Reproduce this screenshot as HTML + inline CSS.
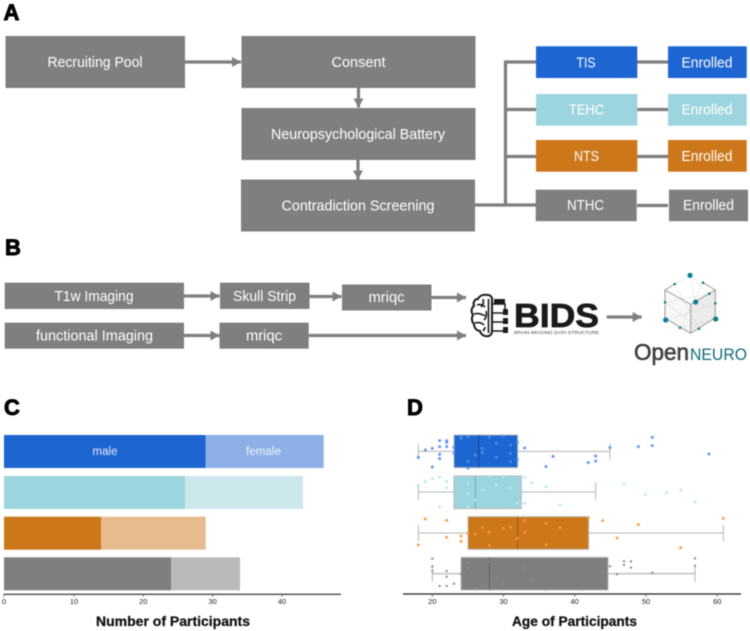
<!DOCTYPE html>
<html><head><meta charset="utf-8"><style>
html,body{margin:0;padding:0;background:#fff;width:750px;height:631px;overflow:hidden}
svg{display:block;filter:blur(.4px)}
text{font-family:"Liberation Sans",sans-serif}
.w{fill:#fff;font-size:14.5px;text-anchor:middle}
.h{fill:#000;font-size:22px;font-weight:bold;stroke:#000;stroke-width:.9}
.t{fill:#222;font-size:7.5px;text-anchor:middle}
.ti{fill:#111;font-size:13.5px;font-weight:bold;text-anchor:middle;stroke:#111;stroke-width:.25}
</style></head><body>
<svg width="750" height="631" viewBox="0 0 750 631" xmlns="http://www.w3.org/2000/svg">
<defs>
<marker id="ar" markerUnits="userSpaceOnUse" markerWidth="10" markerHeight="11" refX="9" refY="5.5" orient="auto"><path d="M0 0.5L9 5.5L0 10.5Z" fill="#7f7f7f"/></marker>
</defs>
<rect width="750" height="631" fill="#fff"/>

<text class="h" x="3.5" y="20">A</text>
<text class="h" x="5" y="255">B</text>
<text class="h" x="4" y="415">C</text>
<text class="h" x="407" y="415">D</text>

<g fill="none" stroke="#7f7f7f" stroke-width="3.2">
<path d="M185 62H241" marker-end="url(#ar)"/>
<path d="M358.5 88V107.5" marker-end="url(#ar)"/>
<path d="M358 160V179.5" marker-end="url(#ar)"/>
<path d="M475 205H536M505.5 205V62H536M505.5 109.5H536M505.5 156.5H536"/>
<path d="M637 62H668M637 109.5H668M637 156.5H668M637 205.5H668"/>
<path d="M184 296H219.5" marker-end="url(#ar)"/>
<path d="M309.5 296.5H341.5" marker-end="url(#ar)"/>
<path d="M431.5 297.5H466" marker-end="url(#ar)"/>
<path d="M184 335.5H219.5" marker-end="url(#ar)"/>
<path d="M308.7 335.5H466" marker-end="url(#ar)"/>
<path d="M606.7 317H641.7" marker-end="url(#ar)"/>
</g>

<g fill="#7f7f7f">
<rect x="5.5" y="36" width="179.5" height="52"/>
<rect x="241.5" y="36" width="234" height="52"/>
<rect x="241.5" y="108" width="234" height="52"/>
<rect x="241" y="179.5" width="234" height="52"/>
<rect x="535.7" y="189.7" width="101" height="31.5"/>
<rect x="669" y="189.7" width="79" height="31.5"/>
<rect x="4.7" y="282.7" width="179.3" height="26.3"/>
<rect x="220" y="282.7" width="89.5" height="26.3"/>
<rect x="342" y="284.5" width="89.5" height="26"/>
<rect x="4.7" y="322.7" width="179.3" height="26"/>
<rect x="219.5" y="322.7" width="89.2" height="26"/>
</g>
<rect x="536" y="46.3" width="101.3" height="31.7" fill="#1d65d0"/>
<rect x="668" y="46.3" width="78.7" height="31.7" fill="#1d65d0"/>
<rect x="536" y="94" width="101.3" height="31.7" fill="#9dd5de"/>
<rect x="668" y="94" width="78.7" height="31.7" fill="#9dd5de"/>
<rect x="536" y="140" width="101.3" height="31.7" fill="#cc771a"/>
<rect x="668" y="140" width="78.7" height="31.7" fill="#cc771a"/>

<text class="w" x="95" y="67" textLength="95" lengthAdjust="spacingAndGlyphs">Recruiting Pool</text>
<text class="w" x="358.5" y="67" textLength="54" lengthAdjust="spacingAndGlyphs">Consent</text>
<text class="w" x="358" y="139" textLength="174" lengthAdjust="spacingAndGlyphs">Neuropsychological Battery</text>
<text class="w" x="358" y="210.5" textLength="153" lengthAdjust="spacingAndGlyphs">Contradiction Screening</text>
<text class="w" x="586" y="67.5" textLength="19" lengthAdjust="spacingAndGlyphs">TIS</text>
<text class="w" x="586.5" y="114.5" textLength="35" lengthAdjust="spacingAndGlyphs">TEHC</text>
<text class="w" x="586.5" y="161" textLength="25" lengthAdjust="spacingAndGlyphs">NTS</text>
<text class="w" x="585.5" y="210" textLength="37" lengthAdjust="spacingAndGlyphs">NTHC</text>
<text class="w" x="707" y="67.5" textLength="51" lengthAdjust="spacingAndGlyphs">Enrolled</text>
<text class="w" x="707" y="114.5" textLength="51" lengthAdjust="spacingAndGlyphs">Enrolled</text>
<text class="w" x="707" y="161" textLength="51" lengthAdjust="spacingAndGlyphs">Enrolled</text>
<text class="w" x="708.5" y="210" textLength="51" lengthAdjust="spacingAndGlyphs">Enrolled</text>

<text class="w" x="94" y="301" textLength="79" lengthAdjust="spacingAndGlyphs">T1w Imaging</text>
<text class="w" x="264.5" y="301" textLength="63" lengthAdjust="spacingAndGlyphs">Skull Strip</text>
<text class="w" x="386.5" y="302" textLength="36" lengthAdjust="spacingAndGlyphs">mriqc</text>
<text class="w" x="94.5" y="340.5" textLength="117" lengthAdjust="spacingAndGlyphs">functional Imaging</text>
<text class="w" x="264" y="340.5" textLength="36" lengthAdjust="spacingAndGlyphs">mriqc</text>

<!-- BIDS logo -->
<g fill="none" stroke="#1a1a1a" stroke-width="2">
<path d="M488 295C483 294 479 296 478 299C474 299 473 303 474 306C471 308 471 312 473 315C471 318 472 322 474 324C474 328 477 331 480 331C481 335 485 337 489 336C491 335 492 333 492 331V298C491 296 490 295 488 295Z" fill="#fff"/>
<path d="M477 305C480 304 483 305 485 307M474 314C478 313 482 314 485 316M475 323C479 322 482 323 484 325M483 299C484 302 483 305 481 307M486 311C487 316 486 318 484 320M485 327C485 329 484 330 483 331M488.5 299V333" stroke-width="1.6"/>
<path d="M492 304H505V309M492 313H503M492 322H503M492 331H503" stroke-width="1.5"/>
</g>
<g fill="#1a1a1a">
<rect x="494" y="299" width="11" height="5.5"/>
<rect x="503" y="309" width="5" height="6"/>
<rect x="503" y="318" width="5" height="6"/>
<rect x="503" y="327" width="5" height="6"/>
</g>
<text x="514" y="327" font-size="33" font-weight="bold" fill="#1a1a1a" stroke="#1a1a1a" stroke-width=".7" textLength="85" lengthAdjust="spacingAndGlyphs">BIDS</text>
<text x="514" y="334" font-size="4.8" fill="#444" textLength="85" lengthAdjust="spacingAndGlyphs">BRAIN IMAGING DATA STRUCTURE</text>

<!-- OpenNeuro logo -->
<path d="M690.7 304.3L715.3 290V318L690.7 333.3Z" fill="#ececec"/>
<path d="M665 290L690.7 304.3V333.3L665 318.3Z" fill="#f7f7f7"/>
<g fill="none" stroke="#d5d5d5" stroke-width=".7" stroke-dasharray="2 1">
<path d="M690 275.3L695.7 302M690 275.3L674.7 284M674.7 284L699 328.7M703 282.7L680 327.7M665 302.3L699 328.7M715.3 303.3L665.7 320M709.3 293.7L665 302.3M715.7 319L680 327.7M690 275.3L709.3 293.7"/>
</g>
<g fill="none" stroke="#9a9a9a" stroke-width="1">
<path d="M674.7 284L665 290V318.3L690.7 333.3L715 318M665 290L690.7 304.3V333.3M690.7 304.3L715.3 290V318M703 282.7L715.3 290"/>
</g>
<g fill="#0d7f92">
<circle cx="690" cy="275.3" r="2.6"/><circle cx="695.7" cy="302" r="2.6"/><circle cx="665.7" cy="320" r="2.6"/><circle cx="715.7" cy="319" r="2.6"/>
<circle cx="674.7" cy="284" r="1.3"/><circle cx="703" cy="282.7" r="1.3"/><circle cx="709.3" cy="293.7" r="1.3"/><circle cx="665" cy="302.3" r="1.3"/><circle cx="715.3" cy="303.3" r="1.3"/><circle cx="680" cy="327.7" r="1.3"/><circle cx="699" cy="328.7" r="1.3"/>
</g>
<text x="634" y="360" font-size="23" fill="#404040" stroke="#404040" stroke-width=".6" textLength="55" lengthAdjust="spacingAndGlyphs">Open</text>
<text x="690" y="360" font-size="16.5" fill="#12697c" textLength="57" lengthAdjust="spacingAndGlyphs">NEURO</text>

<!-- C -->
<rect x="4" y="435" width="201.7" height="33" fill="#1d65d0"/><rect x="205.7" y="435" width="118" height="33" fill="#8cb0e6"/>
<rect x="4" y="476" width="181" height="33" fill="#9dd5de"/><rect x="185" y="476" width="118" height="33" fill="#cde8ec"/>
<rect x="4" y="516.7" width="97" height="33" fill="#cc771a"/><rect x="101" y="516.7" width="104.7" height="33" fill="#e6bb8d"/>
<rect x="4" y="557.3" width="167" height="33" fill="#7f7f7f"/><rect x="171" y="557.3" width="69" height="33" fill="#bababa"/>
<text x="105" y="455" fill="#e8eefb" font-size="11.5" text-anchor="middle" textLength="25" lengthAdjust="spacingAndGlyphs">male</text>
<text x="263.5" y="455" fill="#eef3fb" font-size="11.5" text-anchor="middle" textLength="35" lengthAdjust="spacingAndGlyphs">female</text>
<path d="M4 594.3H341" stroke="#222" stroke-width="1.2"/>
<path d="M4 594V597M74 594V597M143.3 594V597M212.7 594V597M282 594V597" stroke="#333" stroke-width=".6"/>
<text class="t" x="4" y="604">0</text><text class="t" x="74" y="604">10</text><text class="t" x="143.3" y="604">20</text><text class="t" x="212.7" y="604">30</text><text class="t" x="282" y="604">40</text>
<text class="ti" x="173" y="626" textLength="154" lengthAdjust="spacingAndGlyphs">Number of Participants</text>

<!-- D -->
<g transform="translate(400,400) scale(.33333)">
<g stroke="#b5b5b5" stroke-width="3" fill="none">
<path d="M55 154H162M353 154H630M55 130V178M630 130V180"/>
<path d="M55 276H162M364 276H587M55 252V300M587 252V300"/>
<path d="M55 399H204M566 399H970M55 375V423M970 375V423"/>
<path d="M97 521H183M625 521H885" stroke-width="5" stroke="#c4c4c4"/><path d="M97 497V546M885 497V546"/>
</g>
<g stroke="#b9b9b9" stroke-width="3">
<rect x="162" y="105" width="191" height="98" fill="#1d65d0"/>
<rect x="162" y="228" width="202" height="98" fill="#9dd5de"/>
<rect x="204" y="350" width="362" height="98" fill="#cc771a"/>
<rect x="183" y="472" width="441" height="98" fill="#7f7f7f"/>
</g>
<g stroke-width="3" stroke-opacity=".75">
<path d="M236 105V203" stroke="#123f82"/>
<path d="M226 228V326" stroke="#6b9aa3"/>
<path d="M353 350V448" stroke="#8a5010"/>
<path d="M268 472V570" stroke="#5a5a5a"/>
</g>
<g fill="#4f8ff0" fill-opacity=".9">
<circle cx="55" cy="172" r="4.5"/><circle cx="76" cy="150" r="4.5"/><circle cx="97" cy="145" r="4.5"/><circle cx="97" cy="201" r="4.5"/><circle cx="119" cy="122" r="4.5"/><circle cx="119" cy="140" r="4.5"/><circle cx="119" cy="163" r="4.5"/><circle cx="119" cy="176" r="4.5"/><circle cx="140" cy="122" r="4.5"/><circle cx="140" cy="127" r="4.5"/><circle cx="140" cy="140" r="4.5"/><circle cx="162" cy="142" r="4.5"/><circle cx="162" cy="160" r="4.5"/><circle cx="183" cy="108" r="4.5"/><circle cx="183" cy="115" r="4.5"/><circle cx="204" cy="110" r="4.5"/><circle cx="204" cy="185" r="4.5"/><circle cx="204" cy="204" r="4.5"/><circle cx="226" cy="165" r="4.5"/><circle cx="247" cy="145" r="4.5"/><circle cx="247" cy="158" r="4.5"/><circle cx="268" cy="112" r="4.5"/><circle cx="289" cy="130" r="4.5"/><circle cx="289" cy="172" r="4.5"/><circle cx="310" cy="108" r="4.5"/><circle cx="331" cy="135" r="4.5"/><circle cx="331" cy="160" r="4.5"/><circle cx="331" cy="185" r="4.5"/><circle cx="352" cy="128" r="4.5"/><circle cx="352" cy="178" r="4.5"/><circle cx="374" cy="144" r="4.5"/><circle cx="459" cy="169" r="4.5"/><circle cx="438" cy="200" r="4.5"/><circle cx="565" cy="188" r="4.5"/><circle cx="587" cy="168" r="4.5"/><circle cx="587" cy="183" r="4.5"/><circle cx="630" cy="143" r="4.5"/><circle cx="715" cy="140" r="4.5"/><circle cx="757" cy="112" r="4.5"/><circle cx="757" cy="137" r="4.5"/><circle cx="927" cy="162" r="4.5"/>
</g>
<g fill="#b4eaf0" fill-opacity=".9">
<circle cx="76" cy="245" r="4.5"/><circle cx="97" cy="236" r="4.5"/><circle cx="119" cy="231" r="4.5"/><circle cx="140" cy="245" r="4.5"/><circle cx="140" cy="264" r="4.5"/><circle cx="119" cy="321" r="4.5"/><circle cx="204" cy="250" r="4.5"/><circle cx="204" cy="280" r="4.5"/><circle cx="226" cy="300" r="4.5"/><circle cx="247" cy="270" r="4.5"/><circle cx="268" cy="228" r="4.5"/><circle cx="289" cy="255" r="4.5"/><circle cx="310" cy="228" r="4.5"/><circle cx="331" cy="264" r="4.5"/><circle cx="352" cy="310" r="4.5"/><circle cx="374" cy="232" r="4.5"/><circle cx="374" cy="310" r="4.5"/><circle cx="395" cy="249" r="4.5"/><circle cx="438" cy="260" r="4.5"/><circle cx="480" cy="315" r="4.5"/><circle cx="587" cy="252" r="4.5"/><circle cx="672" cy="251" r="4.5"/><circle cx="736" cy="284" r="4.5"/><circle cx="800" cy="278" r="4.5"/><circle cx="842" cy="271" r="4.5"/><circle cx="885" cy="306" r="4.5"/><circle cx="55" cy="258" r="4.5"/><circle cx="204" cy="322" r="4.5"/>
</g>
<g fill="#f59a3c" fill-opacity=".9">
<circle cx="76" cy="357" r="4.5"/><circle cx="140" cy="361" r="4.5"/><circle cx="55" cy="435" r="4.5"/><circle cx="140" cy="412" r="4.5"/><circle cx="183" cy="408" r="4.5"/><circle cx="183" cy="424" r="4.5"/><circle cx="204" cy="400" r="4.5"/><circle cx="226" cy="402" r="4.5"/><circle cx="247" cy="383" r="4.5"/><circle cx="268" cy="397" r="4.5"/><circle cx="268" cy="436" r="4.5"/><circle cx="310" cy="385" r="4.5"/><circle cx="331" cy="382" r="4.5"/><circle cx="352" cy="415" r="4.5"/><circle cx="374" cy="362" r="4.5"/><circle cx="374" cy="397" r="4.5"/><circle cx="438" cy="370" r="4.5"/><circle cx="438" cy="434" r="4.5"/><circle cx="480" cy="383" r="4.5"/><circle cx="565" cy="354" r="4.5"/><circle cx="608" cy="362" r="4.5"/><circle cx="651" cy="414" r="4.5"/><circle cx="715" cy="374" r="4.5"/><circle cx="842" cy="443" r="4.5"/><circle cx="970" cy="355" r="4.5"/>
</g>
<g fill="#8a8a8a">
<circle cx="97" cy="476" r="3.5"/><circle cx="97" cy="499" r="3.5"/><circle cx="97" cy="513" r="3.5"/><circle cx="119" cy="558" r="3.5"/><circle cx="140" cy="513" r="3.5"/><circle cx="140" cy="530" r="3.5"/><circle cx="140" cy="558" r="3.5"/><circle cx="162" cy="551" r="3.5"/><circle cx="183" cy="522" r="3.5"/><circle cx="204" cy="487" r="3.5"/><circle cx="204" cy="506" r="3.5"/><circle cx="226" cy="566" r="3.5"/><circle cx="247" cy="557" r="3.5"/><circle cx="268" cy="486" r="3.5"/><circle cx="289" cy="540" r="3.5"/><circle cx="310" cy="552" r="3.5"/><circle cx="374" cy="504" r="3.5"/><circle cx="395" cy="541" r="3.5"/><circle cx="438" cy="568" r="3.5"/><circle cx="544" cy="568" r="3.5"/><circle cx="608" cy="513" r="3.5"/><circle cx="630" cy="499" r="3.5"/><circle cx="651" cy="523" r="3.5"/><circle cx="672" cy="484" r="3.5"/><circle cx="672" cy="495" r="3.5"/><circle cx="693" cy="484" r="3.5"/><circle cx="693" cy="503" r="3.5"/><circle cx="757" cy="518" r="3.5"/><circle cx="885" cy="475" r="3.5"/><circle cx="885" cy="497" r="3.5"/>
</g>
</g>
<path d="M403 594H741" stroke="#222" stroke-width="1.2"/>
<path d="M432.3 594V597M503.5 594V597M574.7 594V597M646 594V597M717.3 594V597" stroke="#333" stroke-width=".6"/>
<text class="t" x="432.3" y="604">20</text><text class="t" x="503.5" y="604">30</text><text class="t" x="574.7" y="604">40</text><text class="t" x="646" y="604">50</text><text class="t" x="717.3" y="604">60</text>
<text class="ti" x="574.5" y="626" textLength="125" lengthAdjust="spacingAndGlyphs">Age of Participants</text>
</svg>
</body></html>
